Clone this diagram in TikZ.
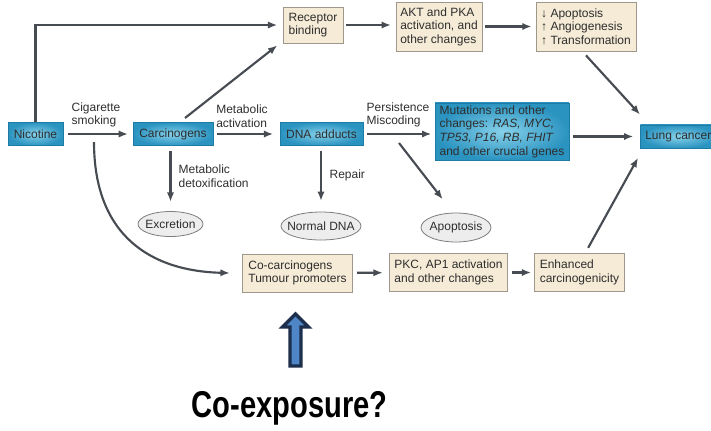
\documentclass[tikz,border=0pt]{standalone}
\usepackage{graphicx}
\usepackage{fontspec}
\setmainfont{Liberation Sans}
\newfontfamily\headfont{Liberation Sans}
\usetikzlibrary{arrows.meta,shapes.geometric}
\definecolor{arrowgray}{HTML}{474B52}
\definecolor{txtgray}{HTML}{2E2E2E}
\definecolor{boxblue}{HTML}{2A93C0}
\definecolor{boxcyan}{HTML}{86D1EA}
\definecolor{blueedge}{HTML}{1E7BA3}
\definecolor{beige}{HTML}{F5EBD6}
\definecolor{beigeedge}{HTML}{9E978B}
\definecolor{ovalgray}{HTML}{EDEDED}
\definecolor{ovaledge}{HTML}{7D7D7D}
\definecolor{navy}{HTML}{1D2F4C}
\definecolor{midblue}{HTML}{4E86C7}
\newcommand{\squeeze}[1]{\makebox[0pt]{#1}}

\begin{document}
\begin{tikzpicture}[x=0.75pt,y=-0.75pt,
  every node/.style={text=txtgray,font=\fontsize{9}{10.2}\selectfont},
  bluebox/.style={draw=blueedge,line width=0.5pt,inner color=boxcyan,outer color=boxblue,minimum height=17.5pt,inner sep=2pt,align=left},
  tanbox/.style={draw=beigeedge,line width=0.6pt,fill=beige,inner sep=2pt,align=left},
  oval/.style={ellipse,draw=ovaledge,line width=0.6pt,fill=ovalgray,inner sep=1pt},
  lbl/.style={align=left,inner sep=1pt},
  arr/.style={draw=arrowgray,line width=1.6pt,-{Latex[length=7pt,width=5.5pt]}}]
\useasboundingbox (0,0) rectangle (711,430);
\node[bluebox,minimum width=41pt] (nic) at (35.5,134) {Nicotine};
\node[bluebox,minimum width=60pt] (carc) at (173,134) {Carcinogens};
\node[bluebox,minimum width=62pt] (dna) at (321.5,134) {DNA adducts};
\node[bluebox,minimum width=100.5pt,minimum height=43pt] (mut) at (502,131.5) {Mutations and other\\changes: \textit{RAS, MYC,}\\\textit{TP53, P16, RB, FHIT}\\and other crucial genes};
\node[bluebox,minimum width=57pt,anchor=west] (lung) at (640,136.5) {Lung cancer};
\node[tanbox,minimum width=45pt,minimum height=27pt] (rec) at (313,25) {Receptor\\binding};
\node[tanbox,minimum width=64.5pt,minimum height=36.75pt] (akt) at (439,26.5) {AKT and PKA\\activation, and\\other changes};
\node[tanbox,minimum width=75pt,minimum height=36.75pt] (apo) at (586,26.5) {↓ Apoptosis\\↑ Angiogenesis\\↑ Transformation};
\node[oval,minimum width=48.75pt,minimum height=18.75pt] (exc) at (170.5,224) {\squeeze{Excretion}};
\node[oval,minimum width=60pt,minimum height=21pt] (ndna) at (321,226) {\squeeze{Normal DNA}};
\node[oval,minimum width=52.5pt,minimum height=21.75pt] (apop) at (456,227.5) {\squeeze{Apoptosis}};
\node[tanbox,minimum width=82pt,minimum height=28.5pt] (cocarc) at (297.5,273) {Co-carcinogens\\Tumour promoters};
\node[tanbox,minimum width=88pt,minimum height=28.5pt] (pkc) at (448.5,272.5) {PKC, AP1 activation\\and other changes};
\node[tanbox,minimum width=68pt,minimum height=28.5pt] (enh) at (579.5,272.5) {Enhanced\\carcinogenicity};
\node[lbl,anchor=south] (cig) at (96,129) {Cigarette\\smoking};
\node[lbl,anchor=south] (metact) at (242,129) {Metabolic\\activation};
\node[lbl,anchor=south] (persist) at (398,129) {Persistence\\Miscoding};
\node[lbl,anchor=west] (detox) at (177,176.5) {Metabolic\\detoxification};
\node[lbl,anchor=west] (repair) at (328,175) {Repair};
\node[font=\headfont\bfseries\fontsize{28}{30}\selectfont,text=black,inner sep=0pt] (coexp) at (289.5,408) {\scalebox{0.78}[1]{Co-exposure?}};
\coordinate (split) at (399,143);
\coordinate (fork) at (94,142);
\draw[arr] (nic.north) |- ([xshift=-4pt]rec.west);
\draw[arr,shorten <=3.5pt,shorten >=3.5pt] (nic) -- (carc);
\draw[arr] ([xshift=9pt,yshift=3pt]carc.north) -- ([xshift=-4pt,yshift=-1.5pt]rec.south west);
\draw[arr,shorten <=2pt,shorten >=3.5pt] (rec.east) -- (rec.east -| akt.west);
\draw[arr,shorten <=2pt,shorten >=3pt] (akt.east) -- (akt.east -| apo.west);
\draw[arr] ([yshift=-3pt]apo.south) -- ([yshift=7.5pt]lung.north west);
\draw[arr,shorten <=3pt,shorten >=5pt] (carc) -- (dna);
\draw[arr,shorten <=3pt,shorten >=2.5pt] (dna.east) -- (dna.east -| mut.west);
\draw[arr,shorten <=3pt,shorten >=5pt] (mut.east |- lung.west) -- (lung.west);
\draw[arr,shorten <=4pt,shorten >=7pt] (exc.north |- carc.south) -- (exc.north);
\draw[arr,shorten <=4pt,shorten >=8pt] (ndna.north |- dna.south) -- (ndna.north);
\draw[arr] (split) -- ([xshift=-10pt,yshift=10pt]apop.north);
\draw[arr] (fork) .. controls (94,235) and (150,271) .. ([xshift=-9.5pt]cocarc.west);
\draw[arr,shorten <=3.5pt,shorten >=5pt] (cocarc) -- (pkc);
\draw[arr,shorten <=3.5pt,shorten >=2pt] (pkc) -- (enh);
\draw[arr] ([xshift=6.5pt,yshift=4pt]enh.north) -- ([xshift=-1.5pt,yshift=-7pt]lung.south west);
\draw[navy,line width=2.5pt,fill=midblue] (290,366) -- (290,327) -- (282.5,327) -- (295.5,314) -- (308.5,327) -- (301,327) -- (301,366) -- cycle;
\end{tikzpicture}
\end{document}
